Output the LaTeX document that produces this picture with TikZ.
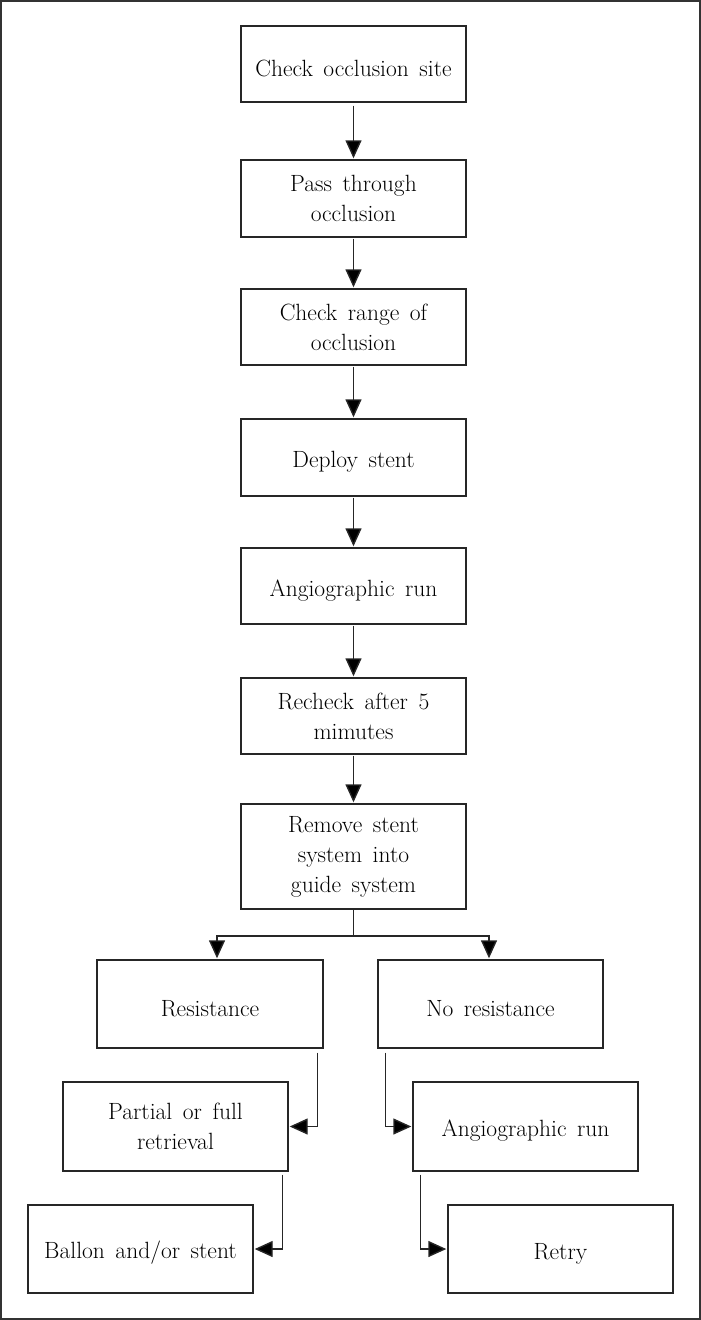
\documentclass[tikz,border=0pt]{standalone}
\usetikzlibrary{arrows.meta}
\newcommand\myboxfont{\fontsize{23.5}{30}\selectfont\spaceskip=0.45em plus 0.1em minus 0.05em\relax}
\begin{document}
\begin{tikzpicture}[x=1pt,y=-1pt,
  box/.style={draw=black!85, line width=1.4pt, rectangle, align=center,
    minimum width=225pt, inner sep=1pt, font=\myboxfont,
    execute at begin node={\rule{0pt}{25pt}}},
  arr/.style={draw=black!85, line width=1.4pt, -{Triangle[width=16pt,length=18pt,fill=black]}, shorten >=1pt},
  ln/.style={draw=black!85, line width=1.4pt}]
\useasboundingbox (0,0) rectangle (701,1320);
\draw[draw=black!80, line width=1.5pt] (1,1) rectangle (700,1319);

\node[box, minimum height=76pt] (b1) at (353.5,64) {Check occlusion site};
\node[box, minimum height=77pt] (b2) at (353.5,198.5) {Pass through\\occlusion};
\node[box, minimum height=76pt] (b3) at (353.5,327) {Check range of\\occlusion};
\node[box, minimum height=77pt] (b4) at (353.5,457.5) {Deploy stent};
\node[box, minimum height=76pt] (b5) at (353.5,586) {Angiographic run};
\node[box, minimum height=76pt] (b6) at (353.5,716) {Recheck after 5\\mimutes};
\node[box, minimum height=105pt] (b7) at (353.5,856.5) {Remove stent\\system into\\guide system};

\node[box, minimum width=226pt, minimum height=88pt] (r1) at (210,1004) {Resistance};
\node[box, minimum height=88pt] (r2) at (490.5,1004) {No resistance};
\node[box, minimum height=89pt] (p) at (175.5,1126.5) {Partial or full\\retrieval};
\node[box, minimum height=89pt] (a) at (525.5,1126.5) {Angiographic run};
\node[box, minimum height=88pt] (bl) at (140.5,1249) {Ballon and/or stent};
\node[box, minimum height=88pt] (rt) at (560.5,1249) {Retry};

\draw[arr] ([yshift=-3pt]b1.south) -- (b2.north);
\draw[arr] ([yshift=-1pt]b2.south) -- (b3.north);
\draw[arr] ([yshift=-1pt]b3.south) -- (b4.north);
\draw[arr] ([yshift=-1pt]b4.south) -- (b5.north);
\draw[arr] ([yshift=-1pt]b5.south) -- (b6.north);
\draw[arr] ([yshift=-1pt]b6.south) -- (b7.north);

\coordinate (fj) at (353.5,936);
\coordinate (fl) at (217,936);
\coordinate (fr) at (489,936);
\draw[ln] (b7.south) -- (fj);
\draw[arr] (fj) -| (fl |- r1.north);
\draw[arr] (fj) -| (fr |- r2.north);

\draw[arr] ([xshift=-6pt,yshift=-4pt]r1.south east) |- (p.east);
\draw[arr] ([xshift=-6pt,yshift=-3pt]p.south east) |- (bl.east);
\draw[arr] ([xshift=8pt,yshift=-4pt]r2.south west) |- (a.west);
\draw[arr] ([xshift=8pt,yshift=-3pt]a.south west) |- (rt.west);
\end{tikzpicture}
\end{document}
